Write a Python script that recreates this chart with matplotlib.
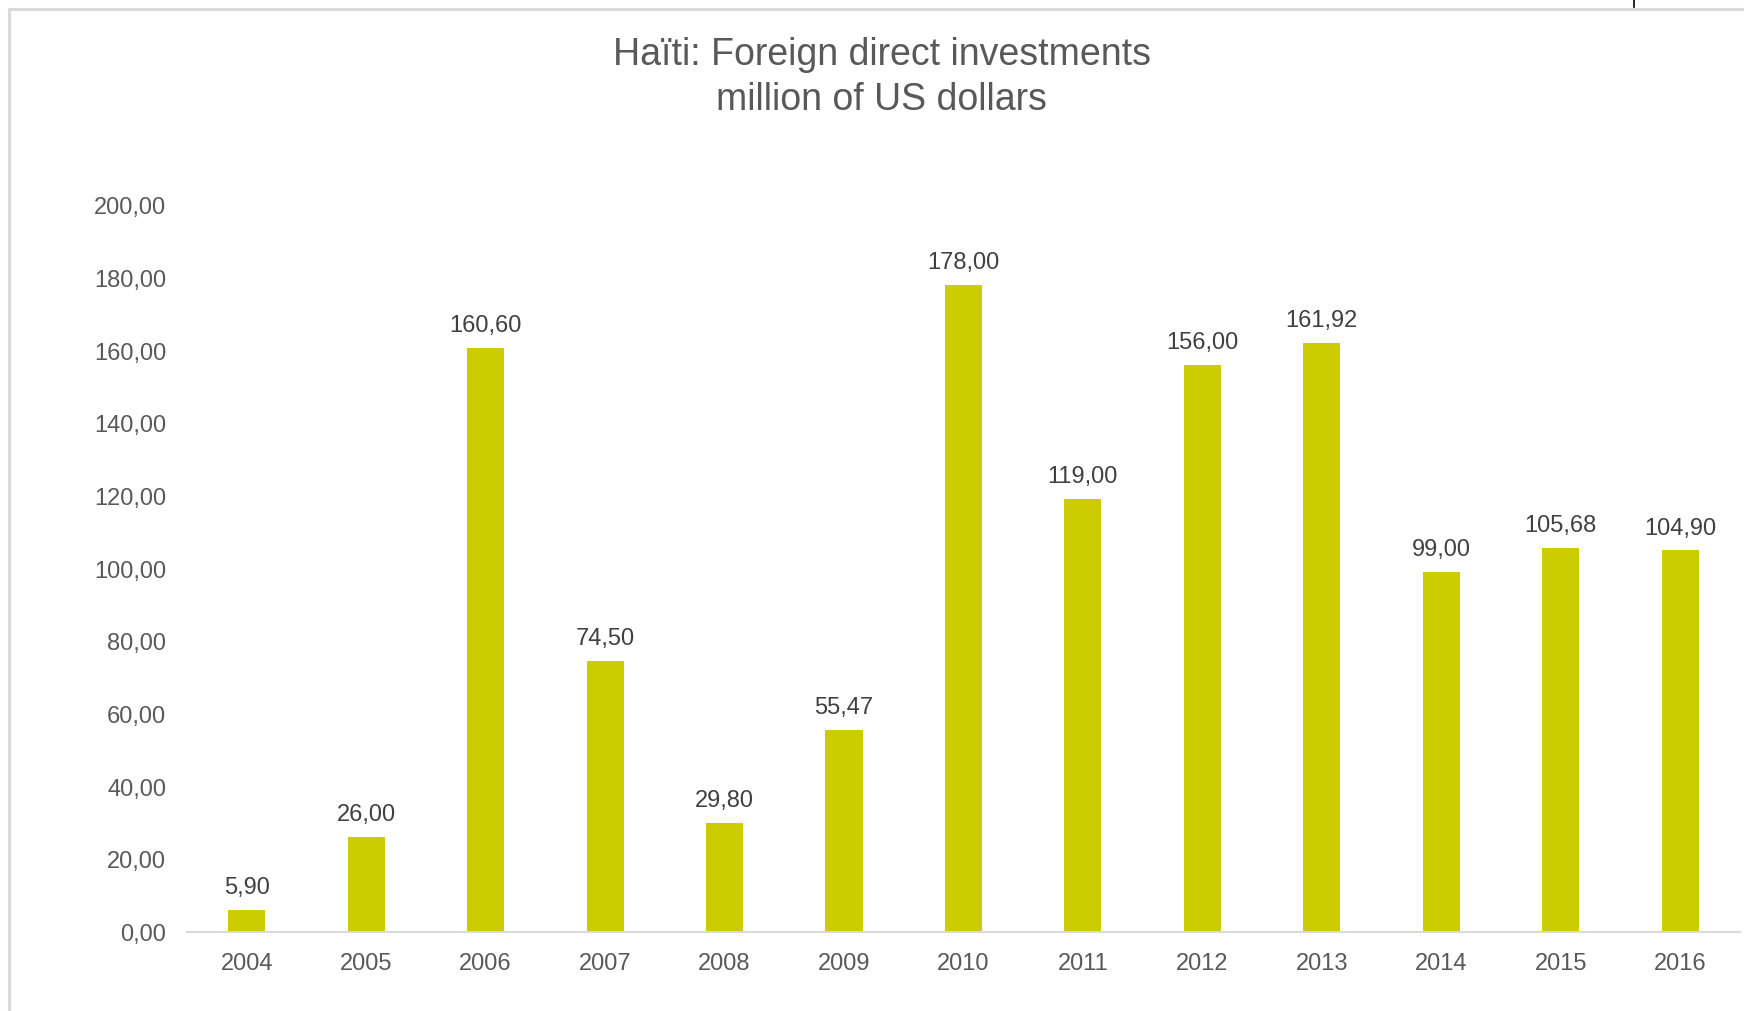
import matplotlib.pyplot as plt
from matplotlib.lines import Line2D
import numpy as np

plt.rcParams['font.family'] = ['Liberation Sans', 'DejaVu Sans']

years = ['2004', '2005', '2006', '2007', '2008', '2009', '2010',
         '2011', '2012', '2013', '2014', '2015', '2016']
fdi = [5.90, 26.00, 160.60, 74.50, 29.80, 55.47, 178.00,
       119.00, 156.00, 161.92, 99.00, 105.68, 104.90]
yticks = [0, 20, 40, 60, 80, 100, 120, 140, 160, 180, 200]


def fmt(v):
    # decimal comma, two places
    return f"{v:.2f}".replace('.', ',')


fig = plt.figure(figsize=(17.44, 10.12), dpi=100)
ax = fig.add_axes([0.1072, 0.0784, 0.8905, 0.7182])

x = np.arange(len(years))
bars = ax.bar(x, fdi, width=0.31, color='#CCCC00', zorder=2)

for b, v in zip(bars, fdi):
    ax.annotate(fmt(v), (b.get_x() + b.get_width() / 2, v),
                xytext=(0, 16.5), textcoords='offset points',
                ha='center', va='center', fontsize=17, color='#404040')

ax.set_xlim(-0.5, len(years) - 0.5)
ax.set_ylim(0, 200)
ax.set_xticks(x)
ax.set_xticklabels(years)
ax.set_yticks(yticks)
ax.set_yticklabels([fmt(t) for t in yticks])
ax.tick_params(axis='both', length=0, labelsize=17, labelcolor='#595959')
ax.tick_params(axis='x', pad=14.5)
ax.tick_params(axis='y', pad=15)

for s in ['top', 'right', 'left']:
    ax.spines[s].set_visible(False)
ax.spines['bottom'].set_color('#D9D9D9')
ax.spines['bottom'].set_linewidth(1.5)

fig.text(0.5055, 0.9234, 'Haïti: Foreign direct investments\nmillion of US dollars',
         ha='center', va='center', fontsize=27, color='#595959', linespacing=1.29)

# chart area frame (left and top edges)
fig.add_artist(Line2D([9 / 1744, 9 / 1744, 1.0], [0.0, 1 - 10 / 1012, 1 - 10 / 1012],
                      color='#D9D9D9', linewidth=2.2))
fig.add_artist(Line2D([1633.5 / 1744, 1633.5 / 1744], [1.0, 1 - 8 / 1012],
                      color='black', linewidth=1.2))

fig.savefig('out.png', dpi=100, facecolor='white')
